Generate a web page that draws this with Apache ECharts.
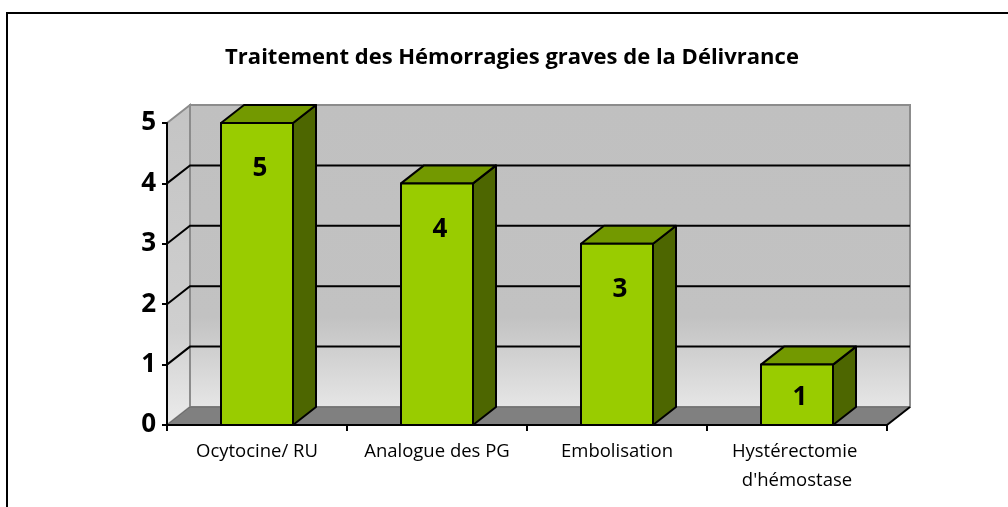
<!DOCTYPE html>
<html>
<head>
<meta charset="utf-8">
<script src="https://cdn.jsdelivr.net/npm/echarts@6/dist/echarts.min.js"></script>
<style>
  html, body { margin: 0; padding: 0; background: #fff; }
  #chart { width: 1008px; height: 507px; }
</style>
</head>
<body>
<div id="chart"></div>
<script>
// Chart data
const title = "Traitement des Hémorragies graves de la Délivrance";
const categories = ["Ocytocine/ RU", "Analogue des PG", "Embolisation", "Hystérectomie d'hémostase"];
const values = [5, 4, 3, 1];
const yTicks = [0, 1, 2, 3, 4, 5];

// 3D look: depth offset of the walls and bar boxes
const DX = 23, DY = -18;
const FONT = "'Open Sans', sans-serif";

const chart = echarts.init(document.getElementById('chart'), null, { renderer: 'canvas' });

function wallsItem(params, api) {
  const cs = params.coordSys;
  const left = cs.x, right = cs.x + cs.width;
  const y0 = api.coord([0, 0])[1];
  const yTop = api.coord([0, yTicks[yTicks.length - 1]])[1];
  const children = [];
  // back wall
  children.push({
    type: 'polygon',
    shape: { points: [[left + DX, yTop + DY], [right + DX, yTop + DY], [right + DX, y0 + DY], [left + DX, y0 + DY]] },
    style: {
      fill: new echarts.graphic.LinearGradient(0, 0, 0, 1, [
        { offset: 0, color: '#c0c0c0' }, { offset: 0.7, color: '#c2c2c2' }, { offset: 1, color: '#e6e6e6' }
      ]),
      stroke: '#8c8c8c', lineWidth: 2
    }
  });
  // side wall
  children.push({
    type: 'polygon',
    shape: { points: [[left, yTop], [left + DX, yTop + DY], [left + DX, y0 + DY], [left, y0]] },
    style: {
      fill: new echarts.graphic.LinearGradient(0, 0, 0, 1, [
        { offset: 0, color: '#c4c4c4' }, { offset: 0.7, color: '#cfcfcf' }, { offset: 1, color: '#ececec' }
      ]),
      stroke: '#8c8c8c', lineWidth: 2
    }
  });
  // gridlines on the side and back walls
  yTicks.forEach(function (v) {
    if (v === 0 || v === yTicks[yTicks.length - 1]) return;
    const y = api.coord([0, v])[1];
    children.push({
      type: 'polyline',
      shape: { points: [[left, y], [left + DX, y + DY], [right + DX, y + DY]] },
      style: { stroke: '#000', lineWidth: 2, fill: null }
    });
  });
  // floor
  children.push({
    type: 'polygon',
    shape: { points: [[left, y0], [left + DX, y0 + DY], [right + DX, y0 + DY], [right, y0]] },
    style: { fill: '#808080', stroke: '#6a6a6a', lineWidth: 1 }
  });
  children.push({
    type: 'line',
    shape: { x1: right, y1: y0, x2: right + DX, y2: y0 + DY },
    style: { stroke: '#000', lineWidth: 2 }
  });
  return { type: 'group', children: children };
}

function barItem(params, api) {
  const idx = api.value(0);
  const val = api.value(1);
  const c = api.coord([idx, val]);
  const base = api.coord([idx, 0])[1];
  const band = api.size([1, 0])[0];
  const w = band * 0.4;
  const l = c[0] - w / 2, r = c[0] + w / 2, t = c[1], b = base;
  const line = { stroke: '#000', lineWidth: 2, lineJoin: 'round' };
  const h = b - t;
  return {
    type: 'group',
    children: [
      { type: 'polygon', shape: { points: [[r, t], [r + DX, t + DY], [r + DX, b + DY], [r, b]] },
        style: Object.assign({ fill: '#4d6600' }, line) },
      { type: 'polygon', shape: { points: [[l, t], [l + DX, t + DY], [r + DX, t + DY], [r, t]] },
        style: Object.assign({ fill: '#739900' }, line) },
      { type: 'rect', shape: { x: l, y: t, width: w, height: h },
        style: Object.assign({ fill: '#99cc00' }, line) },
      { type: 'text', x: c[0] + 3, y: t + Math.min(46, h * 0.55),
        style: { text: String(val), font: 'bold 26px ' + FONT, fill: '#000', align: 'center', verticalAlign: 'middle' } }
    ]
  };
}

chart.setOption({
  animation: false,
  grid: { left: 167, right: 121, top: 123, bottom: 82, containLabel: false },
  xAxis: {
    type: 'category',
    data: categories,
    axisLine: { show: true, lineStyle: { color: '#000', width: 2 } },
    axisTick: { show: true, alignWithLabel: false, length: 6, lineStyle: { color: '#000', width: 2 } },
    axisLabel: { color: '#000', fontFamily: FONT, fontSize: 18.5, margin: 12, lineHeight: 29, width: 170, overflow: 'break', interval: 0 },
    splitLine: { show: false },
    z: 10
  },
  yAxis: {
    type: 'value',
    min: yTicks[0], max: yTicks[yTicks.length - 1], interval: 1,
    axisLine: { show: true, lineStyle: { color: '#000', width: 2 } },
    axisTick: { show: true, length: 5, lineStyle: { color: '#000', width: 2 } },
    axisLabel: { color: '#000', fontFamily: FONT, fontSize: 26, fontWeight: 'bold', margin: 11 },
    splitLine: { show: false },
    z: 10
  },
  graphic: [
    { type: 'rect', shape: { x: 7, y: 13, width: 1020, height: 520 }, style: { fill: null, stroke: '#000', lineWidth: 2 }, z: 0 },
    { type: 'text', x: 512, y: 58, style: { text: title, font: 'bold 22px ' + FONT, fill: '#000', align: 'center', verticalAlign: 'middle' }, z: 5 }
  ],
  series: [
    { type: 'custom', renderItem: wallsItem, data: [[0]], z: 1, silent: true },
    { type: 'custom', renderItem: barItem, data: values.map(function (v, i) { return [i, v]; }), encode: { x: 0, y: 1 }, z: 2, silent: true }
  ]
});
</script>
</body>
</html>
